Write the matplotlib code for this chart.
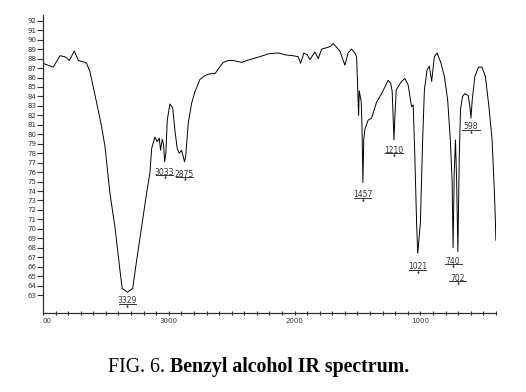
import matplotlib
matplotlib.use("Agg")
import matplotlib.pyplot as plt
from matplotlib.transforms import offset_copy

# IR spectrum of benzyl alcohol (wavenumber cm-1, %T)
wavenumber = [4000, 3918, 3865, 3825, 3791, 3751, 3719, 3666, 3653, 3626,
              3600, 3573, 3534, 3507, 3481, 3468, 3428, 3388, 3370, 3329,
              3287, 3255, 3216, 3176, 3150, 3136, 3110, 3092, 3076, 3065,
              3052, 3041, 3033, 3023, 3012, 2991, 2969, 2951, 2933, 2917,
              2898, 2875, 2866, 2845, 2818, 2792, 2752, 2713, 2673, 2633,
              2607, 2567, 2527, 2488, 2421, 2355, 2276, 2210, 2130, 2077,
              2011, 1971, 1952, 1926, 1900, 1878, 1838, 1812, 1785, 1759,
              1733, 1714, 1693, 1666, 1640, 1600, 1574, 1547, 1521, 1507,
              1496, 1491, 1486, 1478, 1470, 1464, 1457, 1450, 1440, 1415,
              1388, 1348, 1308, 1282, 1256, 1236, 1224, 1216, 1210, 1204,
              1192, 1149, 1123, 1097, 1070, 1057, 1044, 1030, 1021, 1000,
              982, 968, 947, 929, 910, 889, 867, 836, 809, 783,
              762, 748, 740, 731, 721, 712, 702, 691, 681, 665,
              646, 620, 606, 598, 588, 567, 538, 510, 483, 455,
              430, 412, 403, 400]
transmittance = [87.5, 87.1, 88.3, 88.2, 87.8, 88.8, 87.8, 87.6, 87.5, 86.6,
                 85.0, 83.3, 80.8, 78.7, 75.5, 73.8, 70.2, 65.6, 63.7, 63.3,
                 63.7, 66.7, 70.2, 73.8, 75.9, 78.5, 79.7, 79.2, 79.6, 78.3,
                 79.5, 78.9, 77.1, 78.0, 81.5, 83.2, 82.8, 80.4, 78.5, 78.0,
                 78.3, 77.1, 77.6, 81.2, 83.3, 84.5, 85.8, 86.2, 86.4, 86.4,
                 86.9, 87.6, 87.8, 87.8, 87.6, 87.9, 88.2, 88.5, 88.6, 88.4,
                 88.3, 88.2, 87.5, 88.6, 88.4, 87.9, 88.7, 88.0, 89.0, 89.1,
                 89.2, 89.3, 89.6, 89.2, 88.8, 87.3, 88.6, 89.0, 88.6, 88.2,
                 84.0, 82.0, 84.6, 84.0, 83.4, 80.8, 74.9, 79.5, 80.6, 81.5,
                 81.7, 83.4, 84.3, 85.0, 85.7, 85.4, 84.5, 81.5, 79.4, 81.5,
                 84.7, 85.6, 85.9, 85.2, 82.9, 83.1, 77.6, 70.6, 67.4, 70.6,
                 79.4, 84.7, 86.8, 87.2, 85.6, 88.2, 88.6, 87.5, 86.1, 83.6,
                 79.4, 75.2, 68.0, 75.9, 79.4, 75.2, 67.6, 77.6, 82.6, 84.0,
                 84.3, 84.1, 82.9, 81.7, 83.6, 86.1, 87.1, 87.1, 86.1, 82.9,
                 79.4, 74.0, 70.5, 68.8]

# labelled peaks
peak_wn = [3329, 3033, 2875, 1457, 1210, 1021, 740, 702, 598]
peak_T = [63.3, 77.1, 77.1, 74.9, 79.4, 67.4, 68.0, 67.6, 81.7]
peak_text = ["3329", "3033", "2875", "1457", "1210", "1021", "740", "702", "598"]
label_drop = [4, 6, 8, 8, 6, 9, 9, 22, 4]   # pixels below the peak

fig = plt.figure(figsize=(5.26, 3.92), dpi=100)
ax = fig.add_axes([0.0817, 0.2015, 0.861, 0.760])

ax.plot(wavenumber, transmittance, color="black", lw=0.7)

ax.set_xlim(4000, 400)
ax.set_ylim(61.1, 92.6)

ax.set_yticks(range(63, 93))
ax.set_yticklabels([str(v) for v in range(63, 93)])
ax.set_xticks(range(400, 4001, 100), minor=True)
ax.set_xticks([4000, 3000, 2000, 1000])
ax.set_xticklabels(["00", "3000", "2000", "1000"])
ax.get_xticklabels()[0].set_horizontalalignment("left")

ax.tick_params(axis="y", direction="out", length=4, width=0.8, pad=1,
               labelsize=5, colors="#333333")
ax.tick_params(axis="x", which="both", direction="inout", length=3.5,
               width=0.8, pad=2, labelsize=5, colors="#333333")

for s in ["top", "right"]:
    ax.spines[s].set_visible(False)
for s in ["left", "bottom"]:
    ax.spines[s].set_color("#333333")
    ax.spines[s].set_linewidth(0.9)

# peak labels with underline and little tick
half = 68  # cm-1, about half the label width
for wn, t, txt, d in zip(peak_wn, peak_T, peak_text, label_drop):
    ax.annotate(txt, (wn, t), xytext=(0, -d), textcoords="offset pixels",
                ha="center", va="top", fontsize=5.5, color="#333333")
    tr = offset_copy(ax.transData, fig=fig, x=0, y=-(d + 7.5), units="dots")
    ax.plot([wn - half, wn + half], [t, t], color="#333333", lw=0.7,
            transform=tr, clip_on=False)
    tr2 = offset_copy(ax.transData, fig=fig, x=0, y=-(d + 9.5), units="dots")
    ax.plot([wn, wn], [t, t], marker="|", ms=2, color="#333333",
            transform=tr2, clip_on=False)

fig.text(165 / 526, 1 - 372 / 392, "FIG. 6.", ha="right", va="baseline",
         fontsize=14.3, family="Liberation Serif")
fig.text(170 / 526, 1 - 372 / 392, "Benzyl alcohol IR spectrum.", ha="left",
         va="baseline", fontsize=14.3, family="Liberation Serif",
         weight="bold")

fig.savefig("out.png", dpi=100)
